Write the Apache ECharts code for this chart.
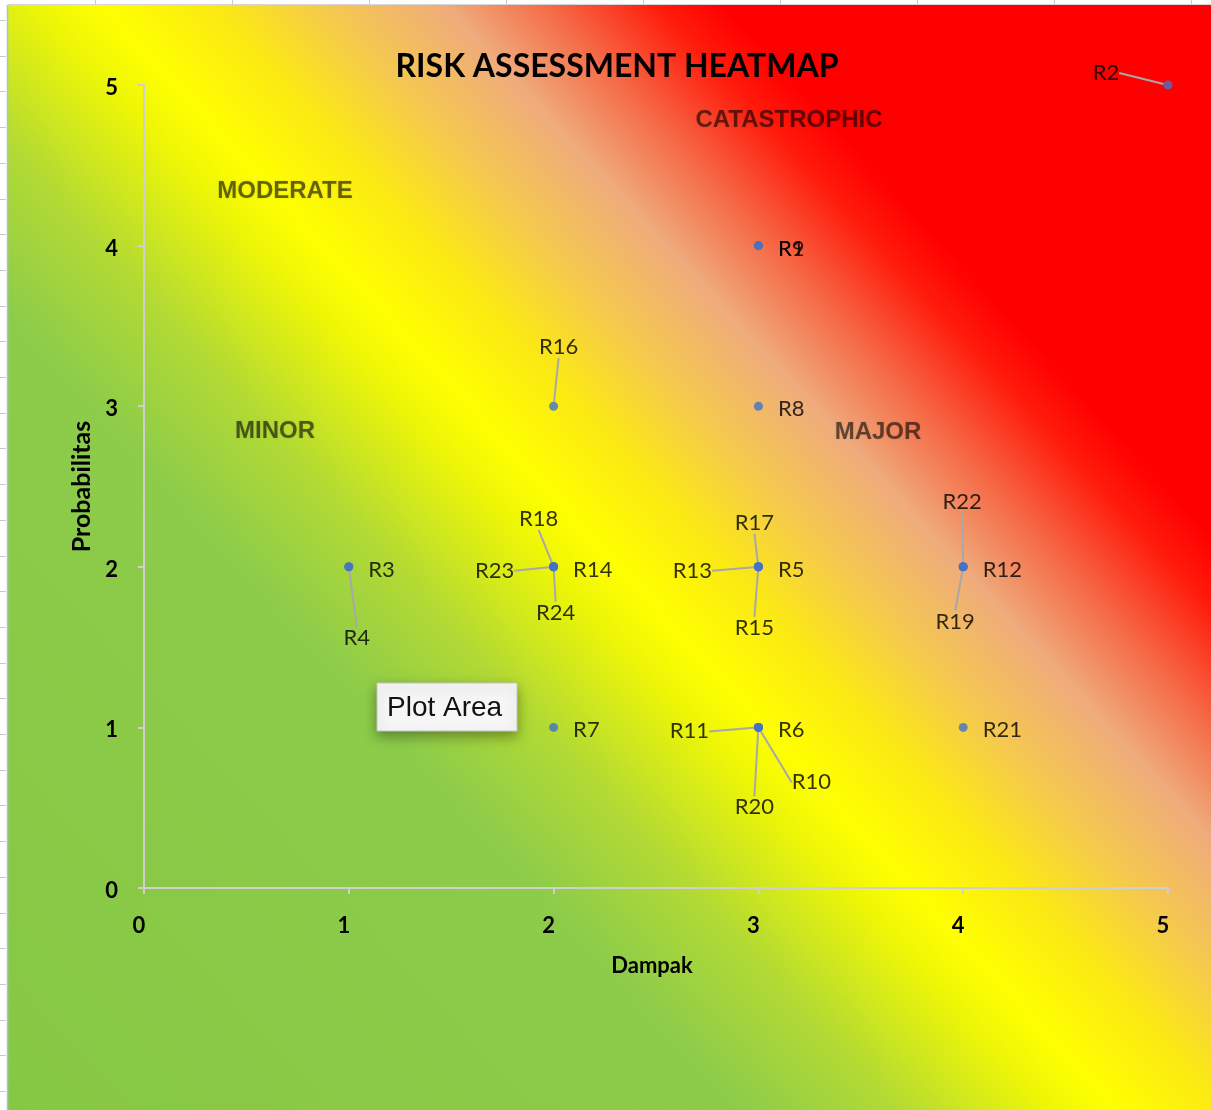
<!DOCTYPE html>
<html>
<head>
<meta charset="utf-8">
<title>Risk Assessment Heatmap</title>
<script src="https://cdn.jsdelivr.net/npm/echarts@6/dist/echarts.min.js"></script>
<style>
  html, body { margin: 0; padding: 0; background: #ffffff; }
  #chart { width: 1211px; height: 1110px; }
</style>
</head>
<body>
<div id="chart"></div>
<script>
// Risk register: impact (Dampak) and likelihood (Probabilitas) per risk
const riskNames   = ['R1','R2','R3','R4','R5','R6','R7','R8','R9','R10','R11','R12',
                     'R13','R14','R15','R16','R17','R18','R19','R20','R21','R22','R23','R24'];
const impact      = [3, 5, 1, 1, 3, 3, 2, 3, 3, 3, 3, 4, 3, 2, 3, 2, 3, 2, 4, 3, 4, 4, 2, 2];
const probability = [4, 5, 2, 2, 2, 1, 1, 3, 4, 1, 1, 2, 2, 2, 2, 3, 2, 2, 2, 1, 1, 2, 2, 2];
const axisTicks   = [0, 1, 2, 3, 4, 5];

// Where each risk's label sits relative to its dot (labels that share a dot fan out)
const labelPlacement = {
  R2:  { dx: -62, dy: -12 },
  R16: { dx: 5,   dy: -59 },
  R4:  { dx: 8,   dy: 71 },
  R23: { dx: -59, dy: 4 },
  R18: { dx: -15, dy: -48 },
  R24: { dx: 2,   dy: 46 },
  R13: { dx: -66, dy: 4 },
  R17: { dx: -4,  dy: -44 },
  R15: { dx: -4,  dy: 61 },
  R22: { dx: -1,  dy: -65 },
  R19: { dx: -8,  dy: 55 },
  R11: { dx: -69, dy: 4 },
  R20: { dx: -4,  dy: 80 },
  R10: { dx: 53,  dy: 55 }
};

const textFont = 'Lato, "Liberation Sans", sans-serif';

const points = riskNames.map((name, i) => {
  const moved = labelPlacement[name];
  return {
    name: name,
    value: [impact[i], probability[i]],
    label: moved ? { position: 'inside' } : { position: 'right', distance: 15 },
    labelLine: { show: !!moved }
  };
});

// Green -> yellow -> red diagonal wash behind the whole chart
const heatGradient = new echarts.graphic.LinearGradient(0, 1, 1, 0, [
  { offset: 0.00, color: '#86c744' },
  { offset: 0.33, color: '#8dcc4a' },
  { offset: 0.40, color: '#b2da34' },
  { offset: 0.47, color: '#eef607' },
  { offset: 0.50, color: '#ffff00' },
  { offset: 0.55, color: '#fbe914' },
  { offset: 0.60, color: '#f5c94e' },
  { offset: 0.655, color: '#efab7c' },
  { offset: 0.70, color: '#f56c48' },
  { offset: 0.75, color: '#ff1c0c' },
  { offset: 0.78, color: '#ff0000' },
  { offset: 1.00, color: '#ff0000' }
]);

// Spreadsheet frame: column dividers along the top, row ticks down the left
const frame = [];
for (let x = 95; x < 1211; x += 137) {
  frame.push({ type: 'line', z: -9, shape: { x1: x + 0.5, y1: 0, x2: x + 0.5, y2: 5 },
               style: { stroke: '#c9c9c9', lineWidth: 1 } });
}
for (let y = 20; y < 1110; y += 35.7) {
  frame.push({ type: 'line', z: -9, shape: { x1: 0, y1: Math.round(y) + 0.5, x2: 6, y2: Math.round(y) + 0.5 },
               style: { stroke: '#c9c9c9', lineWidth: 1 } });
}
frame.push({ type: 'line', z: -9, shape: { x1: 7.5, y1: 5, x2: 7.5, y2: 1110 },
             style: { stroke: '#a9bfdc', lineWidth: 1.5 } });
frame.push({ type: 'line', z: -9, shape: { x1: 8, y1: 4.5, x2: 1211, y2: 4.5 },
             style: { stroke: '#d6d6d6', lineWidth: 1 } });

const zoneStyle = {
  fontFamily: '"Liberation Sans", Arial, sans-serif',
  fontWeight: 'bold',
  fontSize: 24,
  fill: 'rgba(0,0,0,0.55)',
  align: 'center',
  verticalAlign: 'middle',
  textShadowColor: 'rgba(0,0,0,0.25)',
  textShadowBlur: 2
};

const tickText = { fontFamily: textFont, fontWeight: 'bold', fontSize: 22, color: '#000' };

const chart = echarts.init(document.getElementById('chart'), null, { renderer: 'canvas' });

chart.setOption({
  animation: false,
  title: {
    text: 'RISK ASSESSMENT HEATMAP',
    left: 612,
    textAlign: 'center',
    top: 46,
    textStyle: { fontFamily: textFont, fontWeight: 'bold', fontSize: 32, color: '#000' }
  },
  grid: { left: 144, right: 43, top: 85, bottom: 222 },
  xAxis: {
    type: 'value',
    min: axisTicks[0],
    max: axisTicks[axisTicks.length - 1],
    interval: 1,
    name: 'Dampak',
    nameLocation: 'middle',
    nameGap: 67,
    nameTextStyle: { fontFamily: textFont, fontWeight: 'bold', fontSize: 22, color: '#000', padding: [0, 8, 0, 0] },
    axisLine: { show: true, lineStyle: { color: '#cfcfcf', width: 2 } },
    axisTick: { show: true, length: 6, lineStyle: { color: '#cfcfcf', width: 2 } },
    splitLine: { show: false },
    axisLabel: Object.assign({ margin: 27, padding: [0, 10, 0, 0] }, tickText)
  },
  yAxis: {
    type: 'value',
    min: axisTicks[0],
    max: axisTicks[axisTicks.length - 1],
    interval: 1,
    name: 'Probabilitas',
    nameLocation: 'middle',
    nameGap: 44,
    nameTextStyle: { fontFamily: textFont, fontWeight: 'bold', fontSize: 25, color: '#000' },
    axisLine: { show: true, lineStyle: { color: '#cfcfcf', width: 2 } },
    axisTick: { show: true, length: 6, lineStyle: { color: '#cfcfcf', width: 2 } },
    splitLine: { show: false },
    axisLabel: {
      margin: 26,
      formatter: '{v|{value}}',
      rich: { v: Object.assign({ padding: [6, 0, 0, 0] }, tickText) }
    }
  },
  graphic: [
    { type: 'rect', z: -10, shape: { x: 8, y: 5, width: 1203, height: 1105 },
      style: { fill: heatGradient } },
    ...frame,
    { type: 'text', z: 5, x: 285, y: 191, style: Object.assign({ text: 'MODERATE' }, zoneStyle) },
    { type: 'text', z: 5, x: 789, y: 120, style: Object.assign({ text: 'CATASTROPHIC' }, zoneStyle) },
    { type: 'text', z: 5, x: 275, y: 431, style: Object.assign({ text: 'MINOR' }, zoneStyle) },
    { type: 'text', z: 5, x: 878, y: 432, style: Object.assign({ text: 'MAJOR' }, zoneStyle) },
    {
      type: 'group', z: 100, x: 377, y: 683,
      children: [
        { type: 'rect', z: 100, shape: { x: 0, y: 0, width: 140, height: 48 },
          style: { fill: '#f6f6f6', stroke: '#c4c4c4', lineWidth: 1,
                   shadowColor: 'rgba(0,0,0,0.35)', shadowBlur: 12, shadowOffsetY: 5 } },
        { type: 'text', z: 101, x: 10, y: 25,
          style: { text: 'Plot Area', fontFamily: '"Liberation Sans", Arial, sans-serif',
                   fontSize: 28, fill: '#111', verticalAlign: 'middle' } }
      ]
    }
  ],
  series: [{
    type: 'scatter',
    symbol: 'circle',
    symbolSize: 9,
    itemStyle: { color: '#4472c4' },
    data: points,
    label: {
      show: true,
      formatter: '{b}',
      fontFamily: textFont,
      fontSize: 22,
      color: '#000'
    },
    labelLine: { lineStyle: { color: '#a8a8a8', width: 2 } },
    labelLayout: function (params) {
      const moved = labelPlacement[riskNames[params.dataIndex]];
      return moved ? { dx: moved.dx, dy: moved.dy } : { dy: 3 };
    }
  }]
});
</script>
</body>
</html>
